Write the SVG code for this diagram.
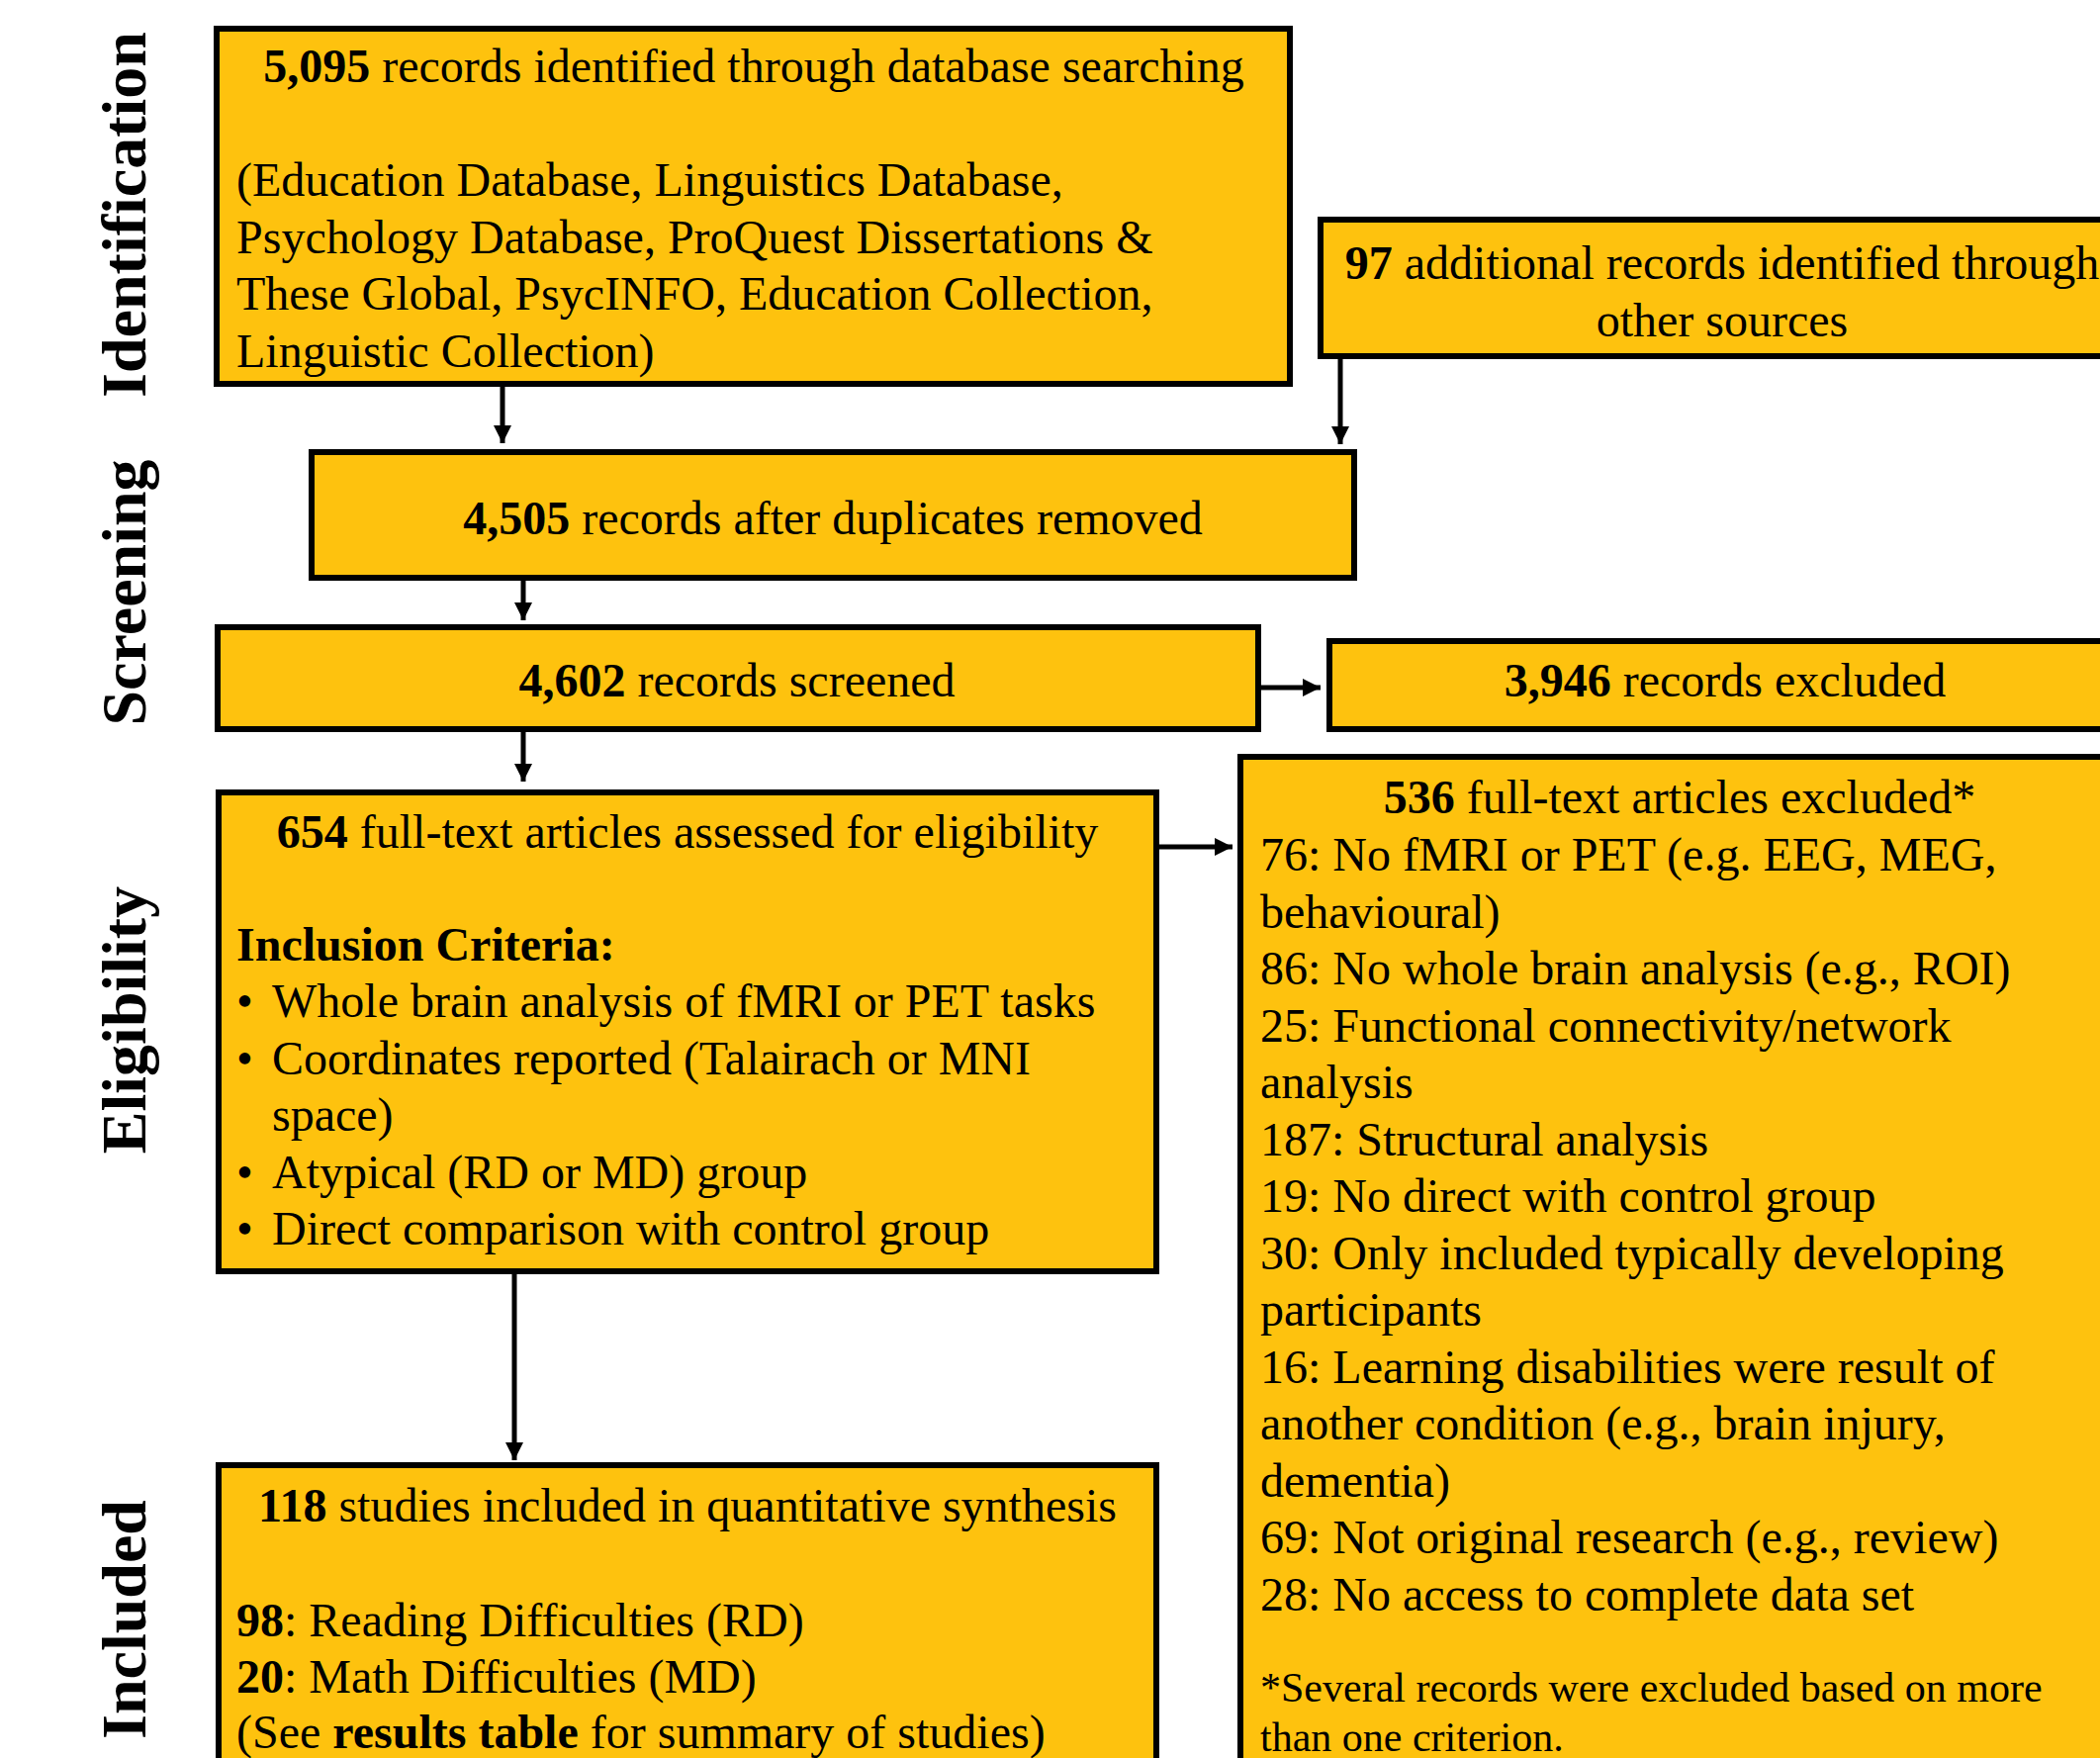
<svg xmlns="http://www.w3.org/2000/svg" width="2123" height="1777" viewBox="0 0 2123 1777">
<style>
text{font-family:"Liberation Serif","Times New Roman",serif;font-size:48px;fill:#000}
.b{font-weight:bold}
.c{text-anchor:middle}
.fn{font-size:42px}
.lab{font-size:64px;font-weight:bold;text-anchor:middle}
.box{fill:#FEC20E;stroke:#000;stroke-width:6}
.ln{stroke:#000;stroke-width:5;fill:none}
</style>
<defs>
<marker id="ah" markerUnits="userSpaceOnUse" markerWidth="18" markerHeight="18" refX="18" refY="9" orient="auto">
<path d="M0,0 L18,9 L0,18 Z" fill="#000"/>
</marker>
</defs>
<rect width="2123" height="1777" fill="#fff"/>
<g id="labels">
<text class="lab" transform="translate(147,217) rotate(-90)">Identification</text>
<text class="lab" transform="translate(147,599) rotate(-90)">Screening</text>
<text class="lab" transform="translate(147,1031) rotate(-90)">Eligibility</text>
<text class="lab" transform="translate(147,1637) rotate(-90)">Included</text>
</g>
<g id="connectors">
<line class="ln" x1="508" y1="391" x2="508" y2="448" marker-end="url(#ah)"/>
<line class="ln" x1="1355" y1="363" x2="1355" y2="449" marker-end="url(#ah)"/>
<line class="ln" x1="529" y1="587" x2="529" y2="627" marker-end="url(#ah)"/>
<line class="ln" x1="1275" y1="695" x2="1335" y2="695" marker-end="url(#ah)"/>
<line class="ln" x1="529" y1="740" x2="529" y2="790" marker-end="url(#ah)"/>
<line class="ln" x1="1172" y1="856" x2="1246" y2="856" marker-end="url(#ah)"/>
<line class="ln" x1="520" y1="1288" x2="520" y2="1476" marker-end="url(#ah)"/>
</g>
<g id="n-database">
<rect class="box" x="219" y="29" width="1085" height="359"/>
<text class="c" x="762" y="83"><tspan class="b">5,095</tspan> records identified through database searching</text>
<text x="239" y="198">(Education Database, Linguistics Database,</text>
<text x="239" y="255.5">Psychology Database, ProQuest Dissertations &amp;</text>
<text x="239" y="313">These Global, PsycINFO, Education Collection,</text>
<text x="239" y="370.5">Linguistic Collection)</text>
</g>
<g id="n-other">
<rect class="box" x="1335" y="222" width="815" height="138"/>
<text class="c" x="1741" y="282"><tspan class="b">97</tspan> additional records identified through</text>
<text class="c" x="1741" y="340">other sources</text>
</g>
<g id="n-dedup">
<rect class="box" x="315" y="457" width="1054" height="127"/>
<text class="c" x="842" y="540"><tspan class="b">4,505</tspan> records after duplicates removed</text>
</g>
<g id="n-screened">
<rect class="box" x="220" y="634" width="1052" height="103"/>
<text class="c" x="745" y="704"><tspan class="b">4,602</tspan> records screened</text>
</g>
<g id="n-excluded">
<rect class="box" x="1344" y="648" width="810" height="89"/>
<text class="c" x="1744" y="704"><tspan class="b">3,946</tspan> records excluded</text>
</g>
<g id="n-eligibility">
<rect class="box" x="221" y="801" width="948" height="484"/>
<text class="c" x="695" y="857"><tspan class="b">654</tspan> full-text articles assessed for eligibility</text>
<text class="b" x="239" y="971">Inclusion Criteria:</text>
<text x="239" y="1028">•</text><text x="275" y="1028">Whole brain analysis of fMRI or PET tasks</text>
<text x="239" y="1085.5">•</text><text x="275" y="1085.5">Coordinates reported (Talairach or MNI</text>
<text x="275" y="1143">space)</text>
<text x="239" y="1200.5">•</text><text x="275" y="1200.5">Atypical (RD or MD) group</text>
<text x="239" y="1258">•</text><text x="275" y="1258">Direct comparison with control group</text>
</g>
<g id="n-fulltext-excluded">
<rect class="box" x="1254" y="765" width="900" height="1100"/>
<text class="c" x="1698" y="822"><tspan class="b">536</tspan> full-text articles excluded*</text>
<text x="1274" y="880">76: No fMRI or PET (e.g. EEG, MEG,</text>
<text x="1274" y="937.5">behavioural)</text>
<text x="1274" y="995">86: No whole brain analysis (e.g., ROI)</text>
<text x="1274" y="1052.5">25: Functional connectivity/network</text>
<text x="1274" y="1110">analysis</text>
<text x="1274" y="1167.5">187: Structural analysis</text>
<text x="1274" y="1225">19: No direct with control group</text>
<text x="1274" y="1282.5">30: Only included typically developing</text>
<text x="1274" y="1340">participants</text>
<text x="1274" y="1397.5">16: Learning disabilities were result of</text>
<text x="1274" y="1455">another condition (e.g., brain injury,</text>
<text x="1274" y="1512.5">dementia)</text>
<text x="1274" y="1570">69: Not original research (e.g., review)</text>
<text x="1274" y="1627.5">28: No access to complete data set</text>
<text class="fn" x="1274" y="1720">*Several records were excluded based on more</text>
<text class="fn" x="1274" y="1770">than one criterion.</text>
</g>
<g id="n-included">
<rect class="box" x="221" y="1481" width="948" height="400"/>
<text class="c" x="695" y="1538"><tspan class="b">118</tspan> studies included in quantitative synthesis</text>
<text x="239" y="1654"><tspan class="b">98</tspan>: Reading Difficulties (RD)</text>
<text x="239" y="1711"><tspan class="b">20</tspan>: Math Difficulties (MD)</text>
<text x="239" y="1767">(See <tspan class="b">results table</tspan> for summary of studies)</text>
</g>
</svg>
